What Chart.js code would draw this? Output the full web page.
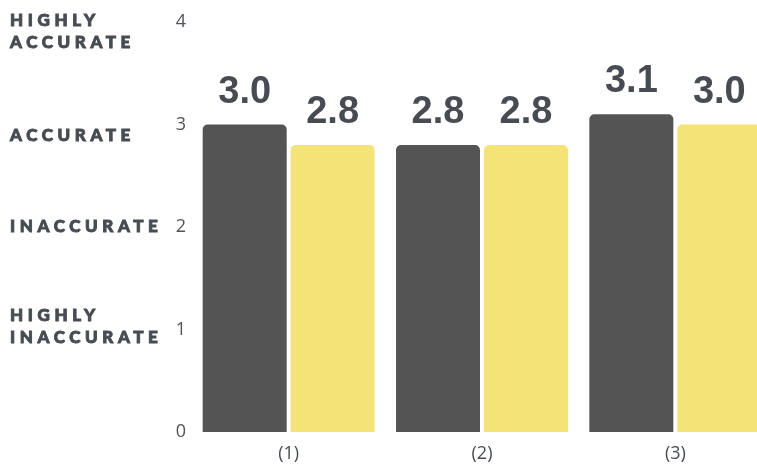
<!DOCTYPE html>
<html>
<head>
<meta charset="utf-8">
<script src="https://cdn.jsdelivr.net/npm/chart.js@4/dist/chart.umd.min.js"></script>
<style>
  html, body { margin: 0; padding: 0; background: #fff; overflow: hidden; }
  #wrap { width: 775px; height: 465px; position: relative; }
</style>
</head>
<body>
<div id="wrap"><canvas id="myChart"></canvas></div>
<script>
var categories = ['(1)', '(2)', '(3)'];
var darkValues = [3.0, 2.8, 3.1];
var yellowValues = [2.8, 2.8, 3.0];
var yTicks = [0, 1, 2, 3, 4];

// rating names written to the left of the axis numbers
var levelNames = [
    { value: 4, lines: ['HIGHLY', 'ACCURATE'], shift: -1 },
    { value: 3, lines: ['ACCURATE'], shift: 11 },
    { value: 2, lines: ['INACCURATE'], shift: 0 },
    { value: 1, lines: ['HIGHLY', 'INACCURATE'], shift: -14 }
];

var textColor = '#474c54';

var levelLabels = {
    id: 'levelLabels',
    afterDraw: function (chart) {
        var ctx = chart.ctx;
        var y = chart.scales.y;
        ctx.save();
        ctx.fillStyle = textColor;
        ctx.strokeStyle = textColor;
        ctx.lineWidth = 0.9;
        ctx.font = '900 17px Lato';
        ctx.letterSpacing = '4.6px';
        ctx.textBaseline = 'middle';
        ctx.textAlign = 'left';
        levelNames.forEach(function (l) {
            var py = y.getPixelForValue(l.value) + l.shift;
            l.lines.forEach(function (t, i) {
                ctx.fillText(t, 10, py + i * 22);
                ctx.strokeText(t, 10, py + i * 22);
            });
        });
        ctx.restore();
    }
};

var valueLabels = {
    id: 'valueLabels',
    afterDatasetsDraw: function (chart) {
        var ctx = chart.ctx;
        ctx.save();
        ctx.fillStyle = textColor;
        ctx.font = 'bold 38px "Liberation Sans"';
        ctx.textAlign = 'center';
        ctx.textBaseline = 'alphabetic';
        chart.data.datasets.forEach(function (ds, i) {
            chart.getDatasetMeta(i).data.forEach(function (bar, j) {
                ctx.fillText(ds.data[j].toFixed(1), bar.x, bar.y - 22);
            });
        });
        ctx.restore();
    }
};

var ctx = document.getElementById('myChart').getContext('2d');
var myChart = new Chart(ctx, {
    type: 'bar',
    data: {
        labels: categories,
        datasets: [{
            data: darkValues,
            backgroundColor: '#545454',
            borderRadius: { topLeft: 5, topRight: 5 },
            borderSkipped: 'start'
        }, {
            data: yellowValues,
            backgroundColor: '#f4e477',
            borderRadius: { topLeft: 5, topRight: 5 },
            borderSkipped: 'start'
        }]
    },
    options: {
        responsive: true,
        maintainAspectRatio: false,
        animation: false,
        datasets: {
            bar: { categoryPercentage: 0.91, barPercentage: 0.955 }
        },
        layout: { padding: { top: 22, left: 0, right: 3, bottom: 0 } },
        plugins: {
            legend: { display: false },
            tooltip: { enabled: false }
        },
        scales: {
            x: {
                grid: { display: false, drawTicks: false },
                border: { display: false },
                ticks: {
                    color: textColor,
                    padding: 11,
                    font: { family: 'Open Sans', size: 18, weight: '500' }
                },
                afterFit: function (s) { s.height = 33; }
            },
            y: {
                min: 0,
                max: 4,
                afterBuildTicks: function (s) {
                    s.ticks = yTicks.map(function (v) { return { value: v }; });
                },
                grid: { display: false, drawTicks: false },
                border: { display: false },
                ticks: {
                    color: '#505359',
                    padding: 6,
                    font: { family: 'Open Sans', size: 18 }
                },
                afterFit: function (s) { s.width = 192; }
            }
        }
    },
    plugins: [levelLabels, valueLabels]
});
</script>
</body>
</html>
